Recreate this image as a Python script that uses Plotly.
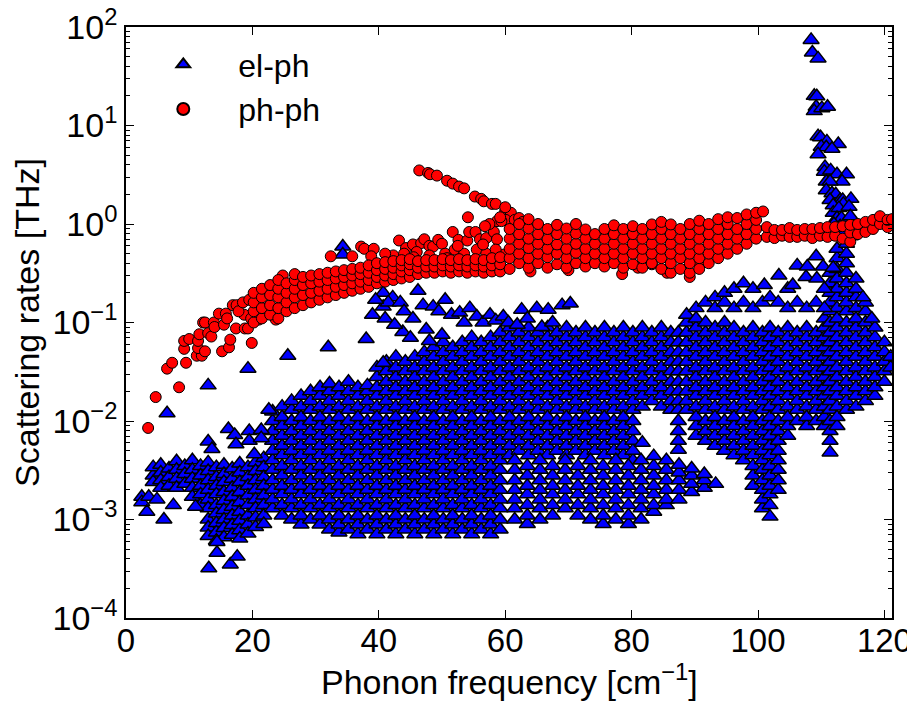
import plotly.graph_objects as go

# ---------------- el-ph (blue triangles) ----------------
# low-frequency band, columns of frequency with rates read per column
elph_low_freq = [4.3, 5.5, 6.8, 8.0, 9.3, 10.5, 11.8, 13.0, 14.3, 15.5, 16.8, 18.0, 19.3, 20.5, 21.8]
elph_low_rate = [
    [2.8e-3, 3.4e-3, 2.4e-3],
    [3.6e-3, 3.0e-3, 2.5e-3, 2.1e-3],
    [3.3e-3, 2.7e-3, 2.2e-3],
    [3.9e-3, 3.2e-3, 2.6e-3, 2.1e-3],
    [3.5e-3, 2.9e-3, 2.3e-3],
    [4.0e-3, 3.2e-3, 2.6e-3, 2.1e-3, 1.7e-3],
    [3.5e-3, 2.8e-3, 2.2e-3, 1.8e-3, 1.4e-3],
    [3.8e-3, 3.1e-3, 2.5e-3, 2.0e-3, 1.6e-3, 1.3e-3, 1.0e-3, 8.3e-4, 6.8e-4],
    [3.4e-3, 2.7e-3, 2.2e-3, 1.8e-3, 1.4e-3, 1.15e-3, 9.2e-4, 7.4e-4, 6.1e-4],
    [3.6e-3, 2.9e-3, 2.4e-3, 1.9e-3, 1.55e-3, 1.25e-3, 1.0e-3, 8.2e-4, 6.6e-4],
    [3.3e-3, 2.6e-3, 2.1e-3, 1.7e-3, 1.35e-3, 1.1e-3, 8.8e-4, 7.0e-4],
    [3.7e-3, 3.0e-3, 2.4e-3, 1.9e-3, 1.5e-3, 1.2e-3, 9.7e-4, 7.8e-4, 6.4e-4],
    [3.4e-3, 2.7e-3, 2.2e-3, 1.75e-3, 1.4e-3, 1.1e-3, 8.9e-4, 7.2e-4],
    [3.8e-3, 3.1e-3, 2.5e-3, 2.0e-3, 1.6e-3, 1.3e-3, 1.05e-3, 8.4e-4],
    [4.2e-3, 3.4e-3, 2.7e-3, 2.2e-3, 1.75e-3, 1.4e-3, 1.1e-3, 9.0e-4],
]

# main dense block 23-59 cm-1
elph_main_freq = [23.2, 24.7, 26.2, 27.7, 29.2, 30.7, 32.2, 33.7, 35.2, 36.7, 38.2, 39.7, 41.2,
                  42.7, 44.2, 45.7, 47.2, 48.7, 50.2, 51.7, 53.2, 54.7, 56.2, 57.7, 59.2]
elph_main_rate = [
    [1.3e-3, 1.6e-3, 2.0e-3, 2.5e-3, 3.2e-3, 4.0e-3, 5.0e-3, 6.3e-3, 7.9e-3, 1.0e-2, 1.25e-2],
    [1.1e-3, 1.4e-3, 1.8e-3, 2.2e-3, 2.8e-3, 3.5e-3, 4.5e-3, 5.6e-3, 7.1e-3, 8.9e-3, 1.1e-2, 1.4e-2],
    [1.0e-3, 1.3e-3, 1.6e-3, 2.0e-3, 2.5e-3, 3.2e-3, 4.0e-3, 5.0e-3, 6.3e-3, 7.9e-3, 1.0e-2, 1.3e-2, 1.6e-2],
    [8.9e-4, 1.1e-3, 1.4e-3, 1.8e-3, 2.2e-3, 2.8e-3, 3.5e-3, 4.5e-3, 5.6e-3, 7.1e-3, 8.9e-3, 1.1e-2, 1.4e-2, 1.8e-2],
    [1.0e-3, 1.3e-3, 1.6e-3, 2.0e-3, 2.5e-3, 3.2e-3, 4.0e-3, 5.0e-3, 6.3e-3, 7.9e-3, 1.0e-2, 1.3e-2, 1.6e-2, 2.0e-2],
    [8.9e-4, 1.1e-3, 1.4e-3, 1.8e-3, 2.2e-3, 2.8e-3, 3.5e-3, 4.5e-3, 5.6e-3, 7.1e-3, 8.9e-3, 1.1e-2, 1.4e-2, 1.8e-2, 2.2e-2],
    [7.9e-4, 1.0e-3, 1.3e-3, 1.6e-3, 2.0e-3, 2.5e-3, 3.2e-3, 4.0e-3, 5.0e-3, 6.3e-3, 7.9e-3, 1.0e-2, 1.3e-2, 1.6e-2, 2.0e-2, 2.4e-2],
    [7.4e-4, 8.9e-4, 1.1e-3, 1.4e-3, 1.8e-3, 2.2e-3, 2.8e-3, 3.5e-3, 4.5e-3, 5.6e-3, 7.1e-3, 8.9e-3, 1.1e-2, 1.4e-2, 1.8e-2, 2.2e-2],
    [7.9e-4, 1.0e-3, 1.3e-3, 1.6e-3, 2.0e-3, 2.5e-3, 3.2e-3, 4.0e-3, 5.0e-3, 6.3e-3, 7.9e-3, 1.0e-2, 1.3e-2, 1.6e-2, 2.0e-2, 2.5e-2],
    [7.1e-4, 8.9e-4, 1.1e-3, 1.4e-3, 1.8e-3, 2.2e-3, 2.8e-3, 3.5e-3, 4.5e-3, 5.6e-3, 7.1e-3, 8.9e-3, 1.1e-2, 1.4e-2, 1.8e-2, 2.2e-2],
    [7.9e-4, 1.0e-3, 1.3e-3, 1.6e-3, 2.0e-3, 2.5e-3, 3.2e-3, 4.0e-3, 5.0e-3, 6.3e-3, 7.9e-3, 1.0e-2, 1.3e-2, 1.6e-2, 2.0e-2, 2.3e-2],
    [7.1e-4, 8.9e-4, 1.1e-3, 1.4e-3, 1.8e-3, 2.2e-3, 2.8e-3, 3.5e-3, 4.5e-3, 5.6e-3, 7.1e-3, 8.9e-3, 1.1e-2, 1.4e-2, 1.8e-2, 2.2e-2, 2.8e-2, 3.5e-2],
    [7.9e-4, 1.0e-3, 1.3e-3, 1.6e-3, 2.0e-3, 2.5e-3, 3.2e-3, 4.0e-3, 5.0e-3, 6.3e-3, 7.9e-3, 1.0e-2, 1.3e-2, 1.6e-2, 2.0e-2, 2.5e-2, 3.2e-2, 4.0e-2],
    [7.1e-4, 8.9e-4, 1.1e-3, 1.4e-3, 1.8e-3, 2.2e-3, 2.8e-3, 3.5e-3, 4.5e-3, 5.6e-3, 7.1e-3, 8.9e-3, 1.1e-2, 1.4e-2, 1.8e-2, 2.2e-2, 2.8e-2, 3.5e-2, 4.5e-2],
    [7.9e-4, 1.0e-3, 1.3e-3, 1.6e-3, 2.0e-3, 2.5e-3, 3.2e-3, 4.0e-3, 5.0e-3, 6.3e-3, 7.9e-3, 1.0e-2, 1.3e-2, 1.6e-2, 2.0e-2, 2.5e-2, 3.2e-2, 4.0e-2],
    [7.1e-4, 8.9e-4, 1.1e-3, 1.4e-3, 1.8e-3, 2.2e-3, 2.8e-3, 3.5e-3, 4.5e-3, 5.6e-3, 7.1e-3, 8.9e-3, 1.1e-2, 1.4e-2, 1.8e-2, 2.2e-2, 2.8e-2, 3.5e-2, 4.5e-2],
    [7.9e-4, 1.0e-3, 1.3e-3, 1.6e-3, 2.0e-3, 2.5e-3, 3.2e-3, 4.0e-3, 5.0e-3, 6.3e-3, 7.9e-3, 1.0e-2, 1.3e-2, 1.6e-2, 2.0e-2, 2.5e-2, 3.2e-2, 4.0e-2, 5.0e-2],
    [7.1e-4, 8.9e-4, 1.1e-3, 1.4e-3, 1.8e-3, 2.2e-3, 2.8e-3, 3.5e-3, 4.5e-3, 5.6e-3, 7.1e-3, 8.9e-3, 1.1e-2, 1.4e-2, 1.8e-2, 2.2e-2, 2.8e-2, 3.5e-2, 4.5e-2, 5.6e-2],
    [7.9e-4, 1.0e-3, 1.3e-3, 1.6e-3, 2.0e-3, 2.5e-3, 3.2e-3, 4.0e-3, 5.0e-3, 6.3e-3, 7.9e-3, 1.0e-2, 1.3e-2, 1.6e-2, 2.0e-2, 2.5e-2, 3.2e-2, 4.0e-2, 5.0e-2, 6.3e-2],
    [7.1e-4, 8.9e-4, 1.1e-3, 1.4e-3, 1.8e-3, 2.2e-3, 2.8e-3, 3.5e-3, 4.5e-3, 5.6e-3, 7.1e-3, 8.9e-3, 1.1e-2, 1.4e-2, 1.8e-2, 2.2e-2, 2.8e-2, 3.5e-2, 4.5e-2, 5.6e-2],
    [7.9e-4, 1.0e-3, 1.3e-3, 1.6e-3, 2.0e-3, 2.5e-3, 3.2e-3, 4.0e-3, 5.0e-3, 6.3e-3, 7.9e-3, 1.0e-2, 1.3e-2, 1.6e-2, 2.0e-2, 2.5e-2, 3.2e-2, 4.0e-2, 5.0e-2, 6.3e-2],
    [7.1e-4, 8.9e-4, 1.1e-3, 1.4e-3, 1.8e-3, 2.2e-3, 2.8e-3, 3.5e-3, 4.5e-3, 5.6e-3, 7.1e-3, 8.9e-3, 1.1e-2, 1.4e-2, 1.8e-2, 2.2e-2, 2.8e-2, 3.5e-2, 4.5e-2, 5.6e-2, 7.1e-2],
    [7.9e-4, 1.0e-3, 1.3e-3, 1.6e-3, 2.0e-3, 2.5e-3, 3.2e-3, 4.0e-3, 5.0e-3, 6.3e-3, 7.9e-3, 1.0e-2, 1.3e-2, 1.6e-2, 2.0e-2, 2.5e-2, 3.2e-2, 4.0e-2, 5.0e-2, 6.3e-2],
    [7.1e-4, 8.9e-4, 1.1e-3, 1.4e-3, 1.8e-3, 2.2e-3, 2.8e-3, 3.5e-3, 4.5e-3, 5.6e-3, 7.1e-3, 8.9e-3, 1.1e-2, 1.4e-2, 1.8e-2, 2.2e-2, 2.8e-2, 3.5e-2, 4.5e-2, 5.6e-2, 7.1e-2],
    [7.9e-4, 1.0e-3, 1.3e-3, 1.6e-3, 2.0e-3, 2.5e-3, 3.2e-3, 4.0e-3, 5.0e-3, 6.3e-3, 7.9e-3, 1.0e-2, 1.3e-2, 1.6e-2, 2.0e-2, 2.5e-2, 3.2e-2, 4.0e-2, 5.0e-2, 6.3e-2, 7.9e-2],
]

# middle block 60-88 cm-1
elph_mid_freq = [60.7, 62.2, 63.7, 65.2, 66.7, 68.2, 69.7, 71.2, 72.7, 74.2, 75.7, 77.2, 78.7,
                 80.2, 81.7, 83.2, 84.7, 86.2, 87.4]
elph_mid_rate = [
    [4.5e-3, 5.6e-3, 7.1e-3, 8.9e-3, 1.1e-2, 1.4e-2, 1.8e-2, 2.2e-2, 2.8e-2, 3.5e-2, 4.5e-2, 5.6e-2, 7.1e-2, 8.9e-2],
    [5.0e-3, 6.3e-3, 7.9e-3, 1.0e-2, 1.3e-2, 1.6e-2, 2.0e-2, 2.5e-2, 3.2e-2, 4.0e-2, 5.0e-2, 6.3e-2, 7.9e-2],
    [4.5e-3, 5.6e-3, 7.1e-3, 8.9e-3, 1.1e-2, 1.4e-2, 1.8e-2, 2.2e-2, 2.8e-2, 3.5e-2, 4.5e-2, 5.6e-2, 7.1e-2, 8.9e-2],
    [5.0e-3, 6.3e-3, 7.9e-3, 1.0e-2, 1.3e-2, 1.6e-2, 2.0e-2, 2.5e-2, 3.2e-2, 4.0e-2, 5.0e-2, 6.3e-2, 7.9e-2],
    [4.5e-3, 5.6e-3, 7.1e-3, 8.9e-3, 1.1e-2, 1.4e-2, 1.8e-2, 2.2e-2, 2.8e-2, 3.5e-2, 4.5e-2, 5.6e-2, 7.1e-2, 8.9e-2],
    [5.0e-3, 6.3e-3, 7.9e-3, 1.0e-2, 1.3e-2, 1.6e-2, 2.0e-2, 2.5e-2, 3.2e-2, 4.0e-2, 5.0e-2, 6.3e-2, 7.9e-2],
    [4.5e-3, 5.6e-3, 7.1e-3, 8.9e-3, 1.1e-2, 1.4e-2, 1.8e-2, 2.2e-2, 2.8e-2, 3.5e-2, 4.5e-2, 5.6e-2, 7.1e-2, 8.9e-2],
    [5.0e-3, 6.3e-3, 7.9e-3, 1.0e-2, 1.3e-2, 1.6e-2, 2.0e-2, 2.5e-2, 3.2e-2, 4.0e-2, 5.0e-2, 6.3e-2, 7.9e-2],
    [4.5e-3, 5.6e-3, 7.1e-3, 8.9e-3, 1.1e-2, 1.4e-2, 1.8e-2, 2.2e-2, 2.8e-2, 3.5e-2, 4.5e-2, 5.6e-2, 7.1e-2, 8.9e-2],
    [5.0e-3, 6.3e-3, 7.9e-3, 1.0e-2, 1.3e-2, 1.6e-2, 2.0e-2, 2.5e-2, 3.2e-2, 4.0e-2, 5.0e-2, 6.3e-2, 7.9e-2],
    [4.5e-3, 5.6e-3, 7.1e-3, 8.9e-3, 1.1e-2, 1.4e-2, 1.8e-2, 2.2e-2, 2.8e-2, 3.5e-2, 4.5e-2, 5.6e-2, 7.1e-2, 8.9e-2],
    [5.0e-3, 6.3e-3, 7.9e-3, 1.0e-2, 1.3e-2, 1.6e-2, 2.0e-2, 2.5e-2, 3.2e-2, 4.0e-2, 5.0e-2, 6.3e-2, 7.9e-2],
    [4.5e-3, 5.6e-3, 7.1e-3, 8.9e-3, 1.1e-2, 1.4e-2, 1.8e-2, 2.2e-2, 2.8e-2, 3.5e-2, 4.5e-2, 5.6e-2, 7.1e-2, 8.9e-2],
    [4.0e-3, 5.0e-3, 6.3e-3, 7.9e-3, 1.0e-2, 1.3e-2, 1.6e-2, 2.0e-2, 2.5e-2, 3.2e-2, 4.0e-2, 5.0e-2, 6.3e-2, 7.9e-2],
    [6.0e-3, 1.4e-2, 1.8e-2, 2.2e-2, 2.8e-2, 3.5e-2, 4.5e-2, 5.6e-2, 7.1e-2, 8.9e-2],
    [1.6e-2, 2.0e-2, 2.5e-2, 3.2e-2, 4.0e-2, 5.0e-2, 6.3e-2, 7.9e-2],
    [1.4e-2, 1.8e-2, 2.2e-2, 2.8e-2, 3.5e-2, 4.5e-2, 5.6e-2, 7.1e-2, 8.9e-2],
    [1.3e-2, 1.6e-2, 2.0e-2, 2.5e-2, 3.2e-2, 4.0e-2, 5.0e-2, 6.3e-2, 7.9e-2],
    [5.1e-3, 6.3e-3, 7.9e-3, 1.0e-2, 1.3e-2, 1.6e-2, 2.0e-2, 2.5e-2, 3.2e-2, 4.0e-2, 5.0e-2, 6.3e-2, 7.9e-2],
]

# sparse lower wedge 60-93 cm-1
elph_wedge_freq = [61.5, 63.5, 65.5, 67.5, 69.5, 71.5, 73.5, 75.5, 77.5, 79.5, 81.5, 83.5, 85.5, 87.5, 89.5, 91.5, 93.3]
elph_wedge_rate = [
    [1.0e-3, 1.3e-3, 1.6e-3, 2.0e-3, 2.5e-3, 3.2e-3, 4.0e-3],
    [9.0e-4, 1.1e-3, 1.4e-3, 1.8e-3, 2.2e-3, 2.8e-3, 3.5e-3],
    [1.0e-3, 1.3e-3, 1.6e-3, 2.0e-3, 2.5e-3, 3.2e-3, 4.0e-3],
    [1.1e-3, 1.4e-3, 1.8e-3, 2.2e-3, 2.8e-3, 3.5e-3],
    [1.3e-3, 1.6e-3, 2.0e-3, 2.5e-3, 3.2e-3, 4.0e-3],
    [1.1e-3, 1.4e-3, 1.8e-3, 2.2e-3, 2.8e-3, 3.5e-3],
    [1.0e-3, 1.3e-3, 1.6e-3, 2.0e-3, 2.5e-3, 3.2e-3, 4.0e-3],
    [9.0e-4, 1.1e-3, 1.4e-3, 1.8e-3, 2.2e-3, 2.8e-3, 3.5e-3],
    [1.0e-3, 1.3e-3, 1.6e-3, 2.0e-3, 2.5e-3, 3.2e-3, 4.0e-3],
    [9.0e-4, 1.1e-3, 1.4e-3, 1.8e-3, 2.2e-3, 2.8e-3, 3.5e-3],
    [1.0e-3, 1.3e-3, 1.6e-3, 2.0e-3, 2.5e-3, 3.2e-3, 4.0e-3],
    [1.2e-3, 1.4e-3, 1.8e-3, 2.2e-3, 2.8e-3, 3.5e-3, 4.4e-3],
    [1.4e-3, 1.6e-3, 2.0e-3, 2.5e-3, 3.2e-3, 4.0e-3],
    [1.6e-3, 2.0e-3, 2.5e-3, 3.0e-3, 3.6e-3],
    [1.9e-3, 2.3e-3, 2.8e-3, 3.3e-3],
    [2.1e-3, 2.5e-3, 2.9e-3],
    [2.3e-3],
]

# high-frequency block 88-121 cm-1
elph_high_freq = [88.7, 90.2, 91.7, 93.2, 94.7, 96.2, 97.7, 99.2, 100.7, 101.9, 103.2, 104.7, 106.2,
                  107.7, 109.2, 110.5, 111.4, 112.5, 114.0, 115.5, 117.0, 118.5, 120.0, 121.0]
elph_high_rate = [
    [1.3e-2, 1.6e-2, 2.0e-2, 2.5e-2, 3.2e-2, 4.0e-2, 5.0e-2, 6.3e-2, 7.9e-2, 0.10, 0.12],
    [7.1e-3, 8.9e-3, 1.1e-2, 1.4e-2, 1.8e-2, 2.2e-2, 2.8e-2, 3.5e-2, 4.5e-2, 5.6e-2, 7.1e-2, 8.9e-2, 0.11],
    [6.3e-3, 7.9e-3, 1.0e-2, 1.3e-2, 1.6e-2, 2.0e-2, 2.5e-2, 3.2e-2, 4.0e-2, 5.0e-2, 6.3e-2, 7.9e-2, 0.10],
    [5.6e-3, 7.1e-3, 8.9e-3, 1.1e-2, 1.4e-2, 1.8e-2, 2.2e-2, 2.8e-2, 3.5e-2, 4.5e-2, 5.6e-2, 7.1e-2, 8.9e-2],
    [5.0e-3, 6.3e-3, 7.9e-3, 1.0e-2, 1.3e-2, 1.6e-2, 2.0e-2, 2.5e-2, 3.2e-2, 4.0e-2, 5.0e-2, 6.3e-2, 7.9e-2, 0.10],
    [4.5e-3, 5.6e-3, 7.1e-3, 8.9e-3, 1.1e-2, 1.4e-2, 1.8e-2, 2.2e-2, 2.8e-2, 3.5e-2, 4.5e-2, 5.6e-2, 7.1e-2, 8.9e-2],
    [4.0e-3, 5.0e-3, 6.3e-3, 7.9e-3, 1.0e-2, 1.3e-2, 1.6e-2, 2.0e-2, 2.5e-2, 3.2e-2, 4.0e-2, 5.0e-2, 6.3e-2, 7.9e-2],
    [2.2e-3, 2.8e-3, 3.5e-3, 4.5e-3, 5.6e-3, 7.1e-3, 8.9e-3, 1.1e-2, 1.4e-2, 1.8e-2, 2.2e-2, 2.8e-2, 3.5e-2, 4.5e-2, 5.6e-2, 7.1e-2, 8.9e-2],
    [1.3e-3, 1.6e-3, 2.0e-3, 2.5e-3, 3.2e-3, 4.0e-3, 5.0e-3, 6.3e-3, 7.9e-3, 1.0e-2, 1.3e-2, 1.6e-2, 2.0e-2, 2.5e-2, 3.2e-2, 4.0e-2, 5.0e-2, 6.3e-2, 7.9e-2],
    [1.07e-3, 1.4e-3, 1.8e-3, 2.2e-3, 2.8e-3, 3.5e-3, 4.5e-3, 5.6e-3, 7.1e-3, 8.9e-3, 1.1e-2, 1.4e-2, 1.8e-2, 2.2e-2, 2.8e-2, 3.5e-2, 4.5e-2, 5.6e-2, 7.1e-2, 8.9e-2],
    [2.0e-3, 2.5e-3, 3.2e-3, 4.0e-3, 5.0e-3, 6.3e-3, 7.9e-3, 1.0e-2, 1.3e-2, 1.6e-2, 2.0e-2, 2.5e-2, 3.2e-2, 4.0e-2, 5.0e-2, 6.3e-2, 7.9e-2],
    [7.1e-3, 8.9e-3, 1.1e-2, 1.4e-2, 1.8e-2, 2.2e-2, 2.8e-2, 3.5e-2, 4.5e-2, 5.6e-2, 7.1e-2, 8.9e-2],
    [1.0e-2, 1.3e-2, 1.6e-2, 2.0e-2, 2.5e-2, 3.2e-2, 4.0e-2, 5.0e-2, 6.3e-2, 7.9e-2],
    [8.9e-3, 1.1e-2, 1.4e-2, 1.8e-2, 2.2e-2, 2.8e-2, 3.5e-2, 4.5e-2, 5.6e-2, 7.1e-2, 8.9e-2],
    [1.0e-2, 1.3e-2, 1.6e-2, 2.0e-2, 2.5e-2, 3.2e-2, 4.0e-2, 5.0e-2, 6.3e-2, 7.9e-2],
    [8.9e-3, 1.1e-2, 1.4e-2, 1.8e-2, 2.2e-2, 2.8e-2, 3.5e-2, 4.5e-2, 5.6e-2, 7.1e-2, 8.9e-2, 0.11],
    [4.8e-3, 6.3e-3, 7.9e-3, 1.0e-2, 1.3e-2, 1.6e-2, 2.0e-2, 2.5e-2, 3.2e-2, 4.0e-2, 5.0e-2, 6.3e-2, 7.9e-2, 0.10, 0.13, 0.16, 0.20, 0.25, 0.32],
    [8.9e-3, 1.1e-2, 1.4e-2, 1.8e-2, 2.2e-2, 2.8e-2, 3.5e-2, 4.5e-2, 5.6e-2, 7.1e-2, 8.9e-2, 0.11, 0.14, 0.18, 0.22, 0.28, 0.35, 0.45, 0.56],
    [1.3e-2, 1.6e-2, 2.0e-2, 2.5e-2, 3.2e-2, 4.0e-2, 5.0e-2, 6.3e-2, 7.9e-2, 0.10, 0.13, 0.16, 0.20, 0.25, 0.32, 0.40, 0.50, 0.63],
    [1.4e-2, 1.8e-2, 2.2e-2, 2.8e-2, 3.5e-2, 4.5e-2, 5.6e-2, 7.1e-2, 8.9e-2, 0.11, 0.14, 0.18, 0.22, 0.28],
    [1.6e-2, 2.0e-2, 2.5e-2, 3.2e-2, 4.0e-2, 5.0e-2, 6.3e-2, 7.9e-2, 0.10, 0.13, 0.16],
    [1.8e-2, 2.2e-2, 2.8e-2, 3.5e-2, 4.5e-2, 5.6e-2, 7.1e-2, 8.9e-2],
    [2.5e-2, 3.2e-2, 4.0e-2, 5.0e-2, 6.3e-2],
    [3.5e-2, 4.5e-2],
]

# isolated el-ph points
elph_sparse_freq = [2.5, 2.5, 3.3, 3.6, 4.9, 6.0, 7.5, 6.5, 11.0, 13.0, 19.3, 25.6, 32.0, 38.0,
                    16.2, 17.2, 17.4, 19.5, 19.5, 21.4, 21.4, 20.3, 13.0, 13.6, 22.6,
                    13.1, 14.4, 14.4, 16.5, 17.6, 34.3, 34.3, 40.7, 43.8,
                    40.7, 42.2, 40.7, 41.5, 43.4, 44.0, 45.4, 46.2, 47.0, 48.6, 49.5, 50.5, 51.5,
                    52.8, 53.5, 54.4, 55.5, 56.5, 57.6, 58.5, 59.7, 60.5, 61.9, 62.6, 63.5, 65.0,
                    65.8, 66.8, 67.5, 69.0, 70.3, 45.0, 47.5, 48.0, 50.0, 41.0, 42.5, 39.5, 39.0,
                    90.2, 91.7, 93.2, 93.2, 94.7, 94.7, 96.2, 96.2, 97.7, 97.7, 99.2, 99.2, 100.7,
                    101.0, 101.9, 103.2, 103.3, 104.7, 104.7, 105.5, 106.2, 106.2, 107.6, 107.8,
                    107.7, 109.2, 109.2, 109.3, 110.3, 110.5, 110.5, 111.9, 116.6, 118.0]
elph_sparse_rate = [1.7e-3, 1.5e-3, 1.2e-3, 1.7e-3, 1.6e-3, 1.0e-3, 1.4e-3, 1.2e-2, 1.35e-3, 2.3e-2,
                    3.4e-2, 4.6e-2, 5.6e-2, 6.8e-2,
                    8.3e-3, 7.2e-3, 5.8e-3, 7.9e-3, 6.3e-3, 8.1e-3, 6.7e-3, 4.6e-3, 6.2e-3, 5.2e-3, 1.3e-2,
                    3.2e-4, 4.6e-4, 5.9e-4, 3.5e-4, 4.2e-4, 0.59, 0.49, 3.9e-2, 0.08,
                    0.20, 0.18, 0.145, 0.16, 0.16, 0.13, 0.11, 0.21, 0.15, 0.145, 0.13, 0.17, 0.12,
                    0.126, 0.10, 0.14, 0.115, 0.10, 0.12, 0.105, 0.115, 0.10, 0.095, 0.135, 0.11, 0.14,
                    0.09, 0.135, 0.10, 0.15, 0.156, 0.07, 0.085, 0.065, 0.075, 0.11, 0.095, 0.17, 0.12,
                    0.14, 0.16, 0.14, 0.18, 0.16, 0.20, 0.14, 0.22, 0.16, 0.25, 0.14, 0.22, 0.16,
                    0.24, 0.18, 0.16, 0.30, 0.14, 0.22, 0.24, 0.16, 0.38, 0.29, 0.37,
                    0.14, 0.16, 0.47, 0.28, 0.37, 0.22, 0.14, 0.36, 0.18, 0.11]

# narrow el-ph peak near 110 cm-1
elph_peak_freq = [108.4, 108.6, 109.5, 108.9, 109.3, 109.2, 108.9, 110.1, 111.0, 109.5, 109.9, 110.9,
                  112.7, 110.0, 110.8, 111.7, 109.5, 110.6, 110.5, 111.5, 112.5, 114.0, 113.3, 110.8,
                  111.4, 110.8, 111.7, 112.3, 111.4, 113.0, 113.4, 114.7, 111.9, 113.5, 111.9, 112.8,
                  114.4, 112.5, 113.2, 114.6, 112.0, 113.0, 114.0, 112.5, 113.6, 114.6]
elph_peak_rate = [74, 55, 48, 20, 19.8, 15.5, 14, 15, 15.5, 7.8, 7.6, 6.9,
                  6.5, 6.1, 6.0, 5.8, 5.1, 3.8, 3.4, 3.5, 3.2, 3.2, 2.7, 2.7,
                  2.7, 2.2, 2.05, 2.0, 1.75, 1.75, 1.75, 1.8, 1.55, 1.6, 1.3, 1.45,
                  1.5, 1.15, 1.15, 1.2, 1.0, 0.95, 0.9, 0.8, 0.8, 0.75]

# ---------------- ph-ph (red circles) ----------------
phph_sparse_freq = [3.5, 4.7, 8.4, 6.5, 7.3, 9.5, 9.2, 9.2, 10.0, 11.2, 12.0, 11.4, 11.4, 12.5, 11.6,
                    12.2, 13.0, 13.5, 15.2, 16.3, 16.5, 19.9, 17.4, 18.8, 19.3, 12.5, 13.9, 14.7,
                    15.8, 16.9, 17.5, 18.7, 19.8, 21.0, 23.7, 24.8, 14.0, 15.5, 16.0, 17.8, 18.5, 19.5,
                    32.4, 35.8, 37.2, 37.7, 39.2, 38.8, 42.3, 37.7, 43.2, 44.3, 45.4, 46.7, 47.2,
                    48.0, 48.6, 49.4, 50.0, 51.7, 52.6, 54.0, 54.3, 55.3, 56.0, 57.0, 58.2, 58.7,
                    54.1, 59.8, 59.0, 41.0, 44.0, 46.0, 48.0, 50.5, 52.0, 53.5, 55.5, 57.0, 58.5,
                    50.8, 45.5, 56.5, 52.5,
                    46.4, 47.8, 48.1, 49.2, 50.8, 51.7, 52.7, 53.5, 55.2, 56.2, 56.6, 57.9, 58.5,
                    60.0, 60.9, 60.1, 58.7, 59.4, 61.5, 62.2, 62.8, 60.0, 59.2, 57.5, 56.8,
                    78.5, 85.6, 89.2, 81.0, 83.2, 90.8, 64.0, 70.0]
phph_sparse_rate = [8.5e-3, 1.75e-2, 2.2e-2, 3.4e-2, 3.9e-2, 3.9e-2, 5.4e-2, 6.5e-2, 6.8e-2, 4.6e-2,
                    4.6e-2, 5.5e-2, 6.5e-2, 5.1e-2, 7.6e-2,
                    0.10, 0.078, 0.072, 0.051, 0.056, 0.067, 0.062, 0.087, 0.087, 0.087, 0.10, 0.10, 0.123,
                    0.123, 0.15, 0.15, 0.12, 0.11, 0.107, 0.107, 0.30, 0.09, 0.095, 0.11, 0.13, 0.16, 0.17,
                    0.47, 0.47, 0.59, 0.56, 0.56, 0.47, 0.48, 0.35, 0.68, 0.57, 0.62, 0.64, 0.70,
                    0.60, 0.59, 0.69, 0.63, 0.83, 0.69, 0.68, 0.83, 0.83, 0.70, 0.72, 0.83, 0.70,
                    1.17, 0.49, 0.45, 0.50, 0.50, 0.52, 0.48, 0.50, 0.55, 0.50, 0.55, 0.50, 0.55,
                    0.45, 0.46, 0.62, 0.60,
                    3.5, 3.3, 3.2, 3.1, 2.75, 2.57, 2.4, 2.3, 1.9, 1.8, 1.7, 1.6, 1.6,
                    1.35, 1.3, 1.1, 1.07, 1.07, 1.1, 1.15, 1.05, 1.48, 1.17, 1.0, 0.95,
                    0.31, 0.32, 0.29, 0.36, 0.39, 0.39, 0.33, 0.34]

phph_band_freq = [20.2, 21.5, 22.8, 24.1, 25.4, 26.7, 28.0, 29.3, 30.6, 31.9, 33.2, 34.5, 35.8, 37.1,
                  38.4, 39.7, 41.0, 42.3, 43.6, 44.9, 46.2, 47.5, 48.8, 50.1, 51.4, 52.7, 54.0, 55.3,
                  56.6, 57.9, 59.2]
phph_band_rate = [
    [0.10, 0.13, 0.16, 0.20],
    [0.11, 0.14, 0.18, 0.22],
    [0.12, 0.15, 0.19, 0.24],
    [0.11, 0.14, 0.18, 0.22, 0.27],
    [0.13, 0.16, 0.20, 0.25],
    [0.14, 0.18, 0.22, 0.27, 0.31],
    [0.15, 0.19, 0.24, 0.29],
    [0.16, 0.20, 0.25, 0.30],
    [0.17, 0.21, 0.26, 0.31],
    [0.18, 0.22, 0.27, 0.32],
    [0.19, 0.23, 0.28, 0.33],
    [0.20, 0.24, 0.29, 0.34],
    [0.21, 0.25, 0.30, 0.35],
    [0.22, 0.26, 0.31, 0.36],
    [0.23, 0.27, 0.32, 0.38],
    [0.25, 0.29, 0.34, 0.40],
    [0.26, 0.30, 0.35, 0.41],
    [0.27, 0.31, 0.36, 0.42],
    [0.28, 0.33, 0.38, 0.43],
    [0.29, 0.34, 0.39, 0.44],
    [0.31, 0.36, 0.42],
    [0.32, 0.37, 0.43],
    [0.32, 0.37, 0.43],
    [0.33, 0.38, 0.44],
    [0.32, 0.37, 0.43],
    [0.33, 0.38, 0.44],
    [0.32, 0.37, 0.43],
    [0.33, 0.38, 0.44],
    [0.32, 0.37, 0.43],
    [0.33, 0.38, 0.45],
    [0.33, 0.39, 0.46],
]

phph_mid_freq = [60.7, 62.2, 63.7, 65.2, 66.7, 68.2, 69.7, 71.2, 72.7, 74.2, 75.7, 77.2, 78.7, 80.2,
                 81.7, 83.2, 84.7, 86.2, 87.7, 89.2, 90.7, 92.2, 93.7, 95.2, 96.7, 98.2, 99.7, 100.8]
phph_mid_rate = [
    [0.35, 0.45, 0.56, 0.71, 0.89],
    [0.40, 0.50, 0.63, 0.79, 1.0],
    [0.36, 0.45, 0.57, 0.71, 0.90, 1.12],
    [0.40, 0.50, 0.63, 0.79, 1.0],
    [0.36, 0.46, 0.56, 0.70, 0.89],
    [0.39, 0.50, 0.62, 0.79, 0.98],
    [0.36, 0.45, 0.56, 0.71, 0.90],
    [0.40, 0.51, 0.63, 0.80, 1.0],
    [0.37, 0.45, 0.56, 0.71, 0.88],
    [0.40, 0.50, 0.63, 0.79],
    [0.37, 0.45, 0.56, 0.71, 0.89],
    [0.40, 0.50, 0.63, 0.79, 0.97],
    [0.36, 0.45, 0.56, 0.71, 0.89],
    [0.39, 0.50, 0.63, 0.79, 0.95],
    [0.36, 0.45, 0.56, 0.71, 0.89],
    [0.40, 0.50, 0.63, 0.79, 0.99],
    [0.35, 0.45, 0.56, 0.71, 0.89, 1.05],
    [0.32, 0.40, 0.50, 0.63, 0.79, 0.99],
    [0.35, 0.45, 0.56, 0.71, 0.89],
    [0.32, 0.40, 0.50, 0.63, 0.79, 1.0],
    [0.35, 0.45, 0.56, 0.71, 0.89, 1.08],
    [0.40, 0.50, 0.63, 0.79, 1.0],
    [0.45, 0.56, 0.71, 0.89, 1.12],
    [0.50, 0.63, 0.79, 1.0, 1.17],
    [0.56, 0.71, 0.89, 1.15],
    [0.63, 0.79, 1.0, 1.25],
    [0.71, 0.89, 1.1, 1.3],
    [1.34],
]

phph_high_freq = [101.4, 102.6, 103.8, 105.0, 106.2, 107.4, 108.6, 109.8, 111.0, 112.2, 113.4, 114.6,
                  115.8, 117.0, 118.2, 119.3, 120.5, 121.2]
phph_high_rate = [
    [0.74, 0.93], [0.72, 0.87], [0.76, 0.87], [0.74, 0.91], [0.74, 0.87], [0.76, 0.89],
    [0.72, 0.89], [0.76, 0.91], [0.74, 0.93], [0.76, 0.93], [0.71, 0.95], [0.66, 0.82, 0.98],
    [0.79, 1.0], [0.83, 1.05], [0.89, 1.1], [1.0, 1.2], [0.93, 1.1], [1.12],
]


def columns(freqs, cols):
    xs, ys = [], []
    for f, col in zip(freqs, cols):
        xs.extend([f] * len(col))
        ys.extend(col)
    return xs, ys


elph_x, elph_y = [], []
for fr, rt in [(elph_low_freq, elph_low_rate), (elph_main_freq, elph_main_rate),
               (elph_mid_freq, elph_mid_rate), (elph_wedge_freq, elph_wedge_rate),
               (elph_high_freq, elph_high_rate)]:
    a, b = columns(fr, rt)
    elph_x += a
    elph_y += b
elph_x += elph_sparse_freq + elph_peak_freq
elph_y += elph_sparse_rate + elph_peak_rate

phph_x, phph_y = list(phph_sparse_freq), list(phph_sparse_rate)
for fr, rt in [(phph_band_freq, phph_band_rate), (phph_mid_freq, phph_mid_rate),
               (phph_high_freq, phph_high_rate)]:
    a, b = columns(fr, rt)
    phph_x += a
    phph_y += b

FONT = "Liberation Sans, Arial, Helvetica, sans-serif"

fig = go.Figure()
fig.add_trace(go.Scatter(
    x=elph_x, y=elph_y, mode="markers", name="el-ph",
    marker=dict(symbol="triangle-up", size=14, color="#0000ff",
                line=dict(color="black", width=1.5)),
))
fig.add_trace(go.Scatter(
    x=phph_x, y=phph_y, mode="markers", name="ph-ph",
    marker=dict(symbol="circle", size=11, color="#ff0000",
                line=dict(color="black", width=1)),
))

major_y = [1e-4, 1e-3, 1e-2, 1e-1, 1, 10, 100]
major_y_text = ["10<sup>−4</sup>", "10<sup>−3</sup>", "10<sup>−2</sup>", "10<sup>−1</sup>",
                "10<sup>0</sup>", "10<sup>1</sup>", "10<sup>2</sup>"]
minor_y = [m * 10.0 ** e for e in range(-4, 2) for m in range(2, 10)]

# the page adds an 8 px body margin, so the figure is sized/margined to land the
# plot area at x 126-892, y 27-618 of the 915x708 window
fig.update_layout(
    width=907, height=700,
    margin=dict(l=118, r=23, t=19, b=90, autoexpand=False),
    paper_bgcolor="white", plot_bgcolor="white",
    font=dict(family=FONT, color="black", size=32),
    showlegend=True,
    legend=dict(x=0.003, y=0.983, xanchor="left", yanchor="top",
                bgcolor="rgba(0,0,0,0)", borderwidth=0, itemwidth=100,
                font=dict(family=FONT, size=32), itemsizing="constant"),
    xaxis=dict(
        range=[0, 121.2], tickmode="array", tickvals=[0, 20, 40, 60, 80, 100, 120],
        ticks="inside", ticklen=8, tickwidth=1.2, tickcolor="black",
        showline=True, linecolor="black", linewidth=1.5, mirror="allticks",
        showgrid=False, zeroline=False, automargin=False, ticklabelstandoff=-7,
        ticklabeloverflow="allow",
        tickfont=dict(family=FONT, size=33),
    ),
    yaxis=dict(
        type="log", range=[-4, 2], tickmode="array", tickvals=major_y, ticktext=major_y_text,
        ticks="inside", ticklen=8, tickwidth=1.2, tickcolor="black",
        minor=dict(tickmode="array", tickvals=minor_y, ticks="inside", ticklen=4,
                   tickwidth=1, tickcolor="black", showgrid=False),
        showline=True, linecolor="black", linewidth=1.5, mirror="allticks",
        showgrid=False, zeroline=False, automargin=False, ticklabeloverflow="allow",
        tickfont=dict(family=FONT, size=34),
        title=dict(text="Scattering rates [THz]", font=dict(family=FONT, size=34), standoff=10),
    ),
    annotations=[dict(
        text="Phonon frequency [cm<sup>−1</sup>]", xref="paper", yref="paper",
        x=0.5, y=-0.143, xanchor="center", yanchor="bottom", showarrow=False,
        font=dict(family=FONT, size=34, color="black"),
    )],
)

fig.write_html("out.html")
